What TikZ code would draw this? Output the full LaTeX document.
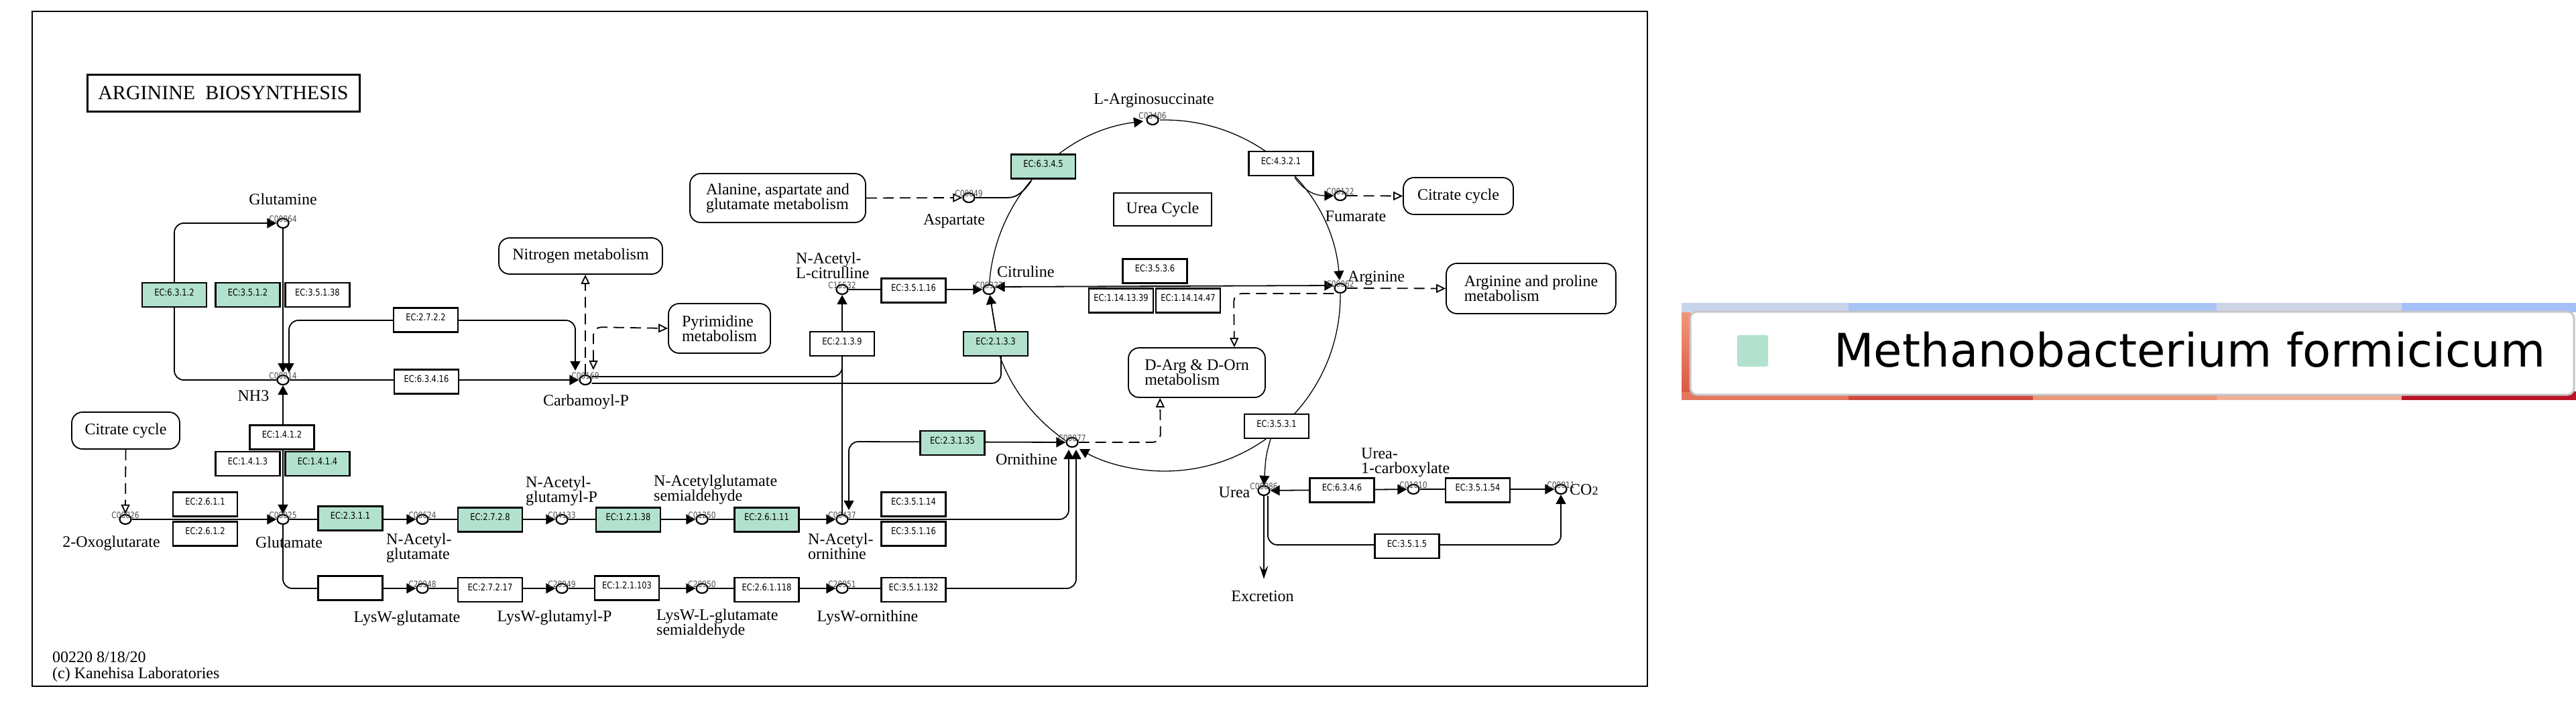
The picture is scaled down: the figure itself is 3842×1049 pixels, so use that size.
\documentclass[tikz,border=0pt]{standalone}
\usepackage{fontspec}
\setmainfont{Liberation Serif}
\newfontfamily\ecfam[FakeStretch=0.82]{DejaVu Sans}
\newfontfamily\legfam{DejaVu Sans}
\usetikzlibrary{arrows.meta,shapes.geometric,calc}
\pgfdeclarelayer{bg}
\pgfdeclarelayer{paper}
\pgfsetlayers{paper,bg,main}
\definecolor{kgreen}{RGB}{178,226,205}
\definecolor{lbA}{RGB}{200,212,235}
\definecolor{lbB}{RGB}{168,196,245}
\definecolor{lbC}{RGB}{205,212,228}
\definecolor{lbD}{RGB}{165,192,248}
\definecolor{lrA}{RGB}{228,120,95}
\definecolor{lrB}{RGB}{205,72,62}
\definecolor{lrC}{RGB}{235,150,120}
\definecolor{lrD}{RGB}{240,175,150}
\definecolor{lrE}{RGB}{185,20,40}
\definecolor{lsal}{RGB}{240,150,120}
\definecolor{lred}{RGB}{220,90,70}
\tikzset{
  kt/.tip={Triangle[length=14pt,width=15pt]},
  ko/.tip={Triangle[open,length=14pt,width=13pt]},
  ec/.style={draw, line width=2.2pt, fill=white, minimum width=96pt, minimum height=36pt,
    inner sep=0pt, font=\ecfam\fontsize{14}{14}\selectfont, text height=10pt, text depth=8pt},
  ecg/.style={ec, fill=kgreen},
  cpd/.style={ellipse, draw, line width=2.2pt, fill=white, minimum width=17pt,
    minimum height=14pt, inner sep=0pt},
  cid/.style={font=\ecfam\fontsize{13}{13}\selectfont, text=black!70, inner sep=0pt},
  lbl/.style={font=\fontsize{24}{24}\selectfont, inner sep=0pt, anchor=base},
  lblw/.style={lbl, anchor=base west},
  mapbox/.style={draw, line width=1.8pt, rounded corners=16pt, fill=white, align=left,
    font=\fontsize{24}{22}\selectfont, inner sep=0pt},
  ln/.style={line width=1.8pt},
  arr/.style={ln, -kt},
  darr/.style={ln, kt-kt},
  arcln/.style={line width=1.3pt},
  arcarr/.style={line width=1.3pt, -kt},
  dsh/.style={line width=1.8pt, dash pattern=on 16pt off 9pt, -ko},
  ddsh/.style={line width=1.8pt, dash pattern=on 16pt off 9pt, ko-ko},
}
\begin{document}
\begin{tikzpicture}[x=1pt,y=-1pt]
\begin{pgfonlayer}{paper}
\fill[white] (0,0) rectangle (3842,1049);
\end{pgfonlayer}
\useasboundingbox (0,0) rectangle (3842,1049);
\draw[line width=2.4pt] (48,17) rectangle (2457,1024);

% title
\node[draw,line width=3pt,minimum width=406pt,minimum height=55pt,inner sep=0pt,
  font=\fontsize{30}{30}\selectfont] (title) at (333,138.5) {ARGININE\ \ BIOSYNTHESIS};

% compounds
\node[cpd] (gln) at (422,333) {};
\node[cpd] (nh3) at (422,567) {};
\node[cpd] (carbp) at (873,567) {};
\node[cpd] (oxo) at (187,775) {};
\node[cpd] (glu) at (422,775) {};
\node[cpd] (nag) at (630,775) {};
\node[cpd] (nagp) at (838,775) {};
\node[cpd] (nagsa) at (1047,775) {};
\node[cpd] (nao) at (1256,775) {};
\node[cpd] (lglu) at (630,878) {};
\node[cpd] (lglup) at (838,878) {};
\node[cpd] (lglusa) at (1047,878) {};
\node[cpd] (lorn) at (1256,878) {};
\node[cpd] (nacit) at (1256,432) {};
\node[cpd] (cit) at (1475,432) {};
\node[cpd] (asp) at (1445,295) {};
\node[cpd] (args) at (1719,179) {};
\node[cpd] (fum) at (1999,292) {};
\node[cpd] (arg) at (1999,430) {};
\node[cpd] (orn) at (1599,660) {};
\node[cpd] (urea) at (1885,732) {};
\node[cpd] (ureac) at (2108,730) {};
\node[cpd] (co2) at (2328,730) {};

\coordinate (uc) at (1737,441);
\coordinate (nh3t1) at (422,556);
\coordinate (nh3t2) at (431,556);
\coordinate (cpt1) at (858,553);
\coordinate (cpt2) at (885,552);
\coordinate (orn1) at (1594,671);
\coordinate (orn2) at (1605,671);
\coordinate (naot) at (1266,761);
\coordinate (exctip) at (1885,864);

% compound labels
\node[lbl] (l-gln) at (422,305) {Glutamine};
\node[lbl] (l-nh3) at (378,598) {NH3};
\node[lbl] (l-carbp) at (874,605) {Carbamoyl-P};
\node[lbl] (l-oxo) at (166,816) {2-Oxoglutarate};
\node[lbl] (l-glu) at (431,817) {Glutamate};
\node[lblw] (l-nag1) at (576,812) {N-Acetyl-};
\node[lblw] (l-nag2) at (576,834) {glutamate};
\node[lbl] (l-lglu) at (607,928) {LysW-glutamate};
\node[lblw] (l-nagp1) at (784,727) {N-Acetyl-};
\node[lblw] (l-nagp2) at (784,749) {glutamyl-P};
\node[lblw] (l-nagsa1) at (975,725) {N-Acetylglutamate};
\node[lblw] (l-nagsa2) at (975,747) {semialdehyde};
\node[lblw] (l-nao1) at (1205,812) {N-Acetyl-};
\node[lblw] (l-nao2) at (1205,834) {ornithine};
\node[lbl] (l-lglup) at (827,927) {LysW-glutamyl-P};
\node[lblw] (l-lglusa1) at (979,925) {LysW-L-glutamate};
\node[lblw] (l-lglusa2) at (979,947) {semialdehyde};
\node[lbl] (l-lorn) at (1294,927) {LysW-ornithine};
\node[lblw] (l-nacit1) at (1187,393) {N-Acetyl-};
\node[lblw] (l-nacit2) at (1187,415) {L-citrulline};
\node[lblw] (l-cit) at (1487,413) {Citruline};
\node[lbl] (l-asp) at (1423,335) {Aspartate};
\node[lbl] (l-args) at (1721,155) {L-Arginosuccinate};
\node[lbl] (l-fum) at (2022,330) {Fumarate};
\node[lblw] (l-arg) at (2010,420) {Arginine};
\node[lbl] (l-orn) at (1531,693) {Ornithine};
\node[lbl] (l-urea) at (1841,742) {Urea};
\node[lblw] (l-ureac1) at (2030,684) {Urea-};
\node[lblw] (l-ureac2) at (2030,706) {1-carboxylate};
\node[lblw] (l-co2) at (2341,738) {CO{\fontsize{18}{18}\selectfont 2}};
\node[lbl] (l-exc) at (1883,897) {Excretion};
\node[lblw] (foot1) at (78,988) {00220 8/18/20};
\node[lblw] (foot2) at (78,1012) {(c) Kanehisa Laboratories};

% enzyme boxes
\node[ecg] (e6312) at (260,440) {EC:6.3.1.2};
\node[ecg] (e3512) at (369.5,440) {EC:3.5.1.2};
\node[ec] (e35138) at (473.5,440) {EC:3.5.1.38};
\node[ec] (e2722) at (635,477.5) {EC:2.7.2.2};
\node[ec] (e63416) at (636,569.5) {EC:6.3.4.16};
\node[ec] (e1412) at (420.5,652.5) {EC:1.4.1.2};
\node[ec] (e1413) at (369.5,692) {EC:1.4.1.3};
\node[ecg] (e1414) at (473.5,692) {EC:1.4.1.4};
\node[ec] (e2611) at (306,752.5) {EC:2.6.1.1};
\node[ec] (e2612) at (306,796.5) {EC:2.6.1.2};
\node[ecg] (e2311) at (522.5,773.5) {EC:2.3.1.1};
\node[ecg] (e2728) at (731,775.5) {EC:2.7.2.8};
\node[ecg] (e12138) at (937,775.5) {EC:1.2.1.38};
\node[ecg] (e26111) at (1143.5,775.5) {EC:2.6.1.11};
\node[ec] (e35114) at (1362.5,752.5) {EC:3.5.1.14};
\node[ec] (e35116b) at (1362.5,796.5) {EC:3.5.1.16};
\node[ec] (eblank) at (522.5,877.5) {};
\node[ec] (e27217) at (731,880) {EC:2.7.2.17};
\node[ec] (e121103) at (935,877.5) {EC:1.2.1.103};
\node[ec] (e261118) at (1143.5,880) {EC:2.6.1.118};
\node[ec] (e351132) at (1362.5,880) {EC:3.5.1.132};
\node[ec] (e2139) at (1256,513) {EC:2.1.3.9};
\node[ec] (e35116a) at (1362.5,433.5) {EC:3.5.1.16};
\node[ecg] (e2133) at (1485,513) {EC:2.1.3.3};
\node[ecg] (e23135) at (1420.5,661) {EC:2.3.1.35};
\node[ecg] (e6345) at (1556,248.5) {EC:6.3.4.5};
\node[ec] (e4321) at (1910.5,244) {EC:4.3.2.1};
\node[ec] (e3536) at (1722.5,404.5) {EC:3.5.3.6};
\node[ec] (e11413) at (1672,448.5) {EC:1.14.13.39};
\node[ec] (e11414) at (1772,448.5) {EC:1.14.14.47};
\node[ec] (e3531) at (1904,636) {EC:3.5.3.1};
\node[ec] (e6346) at (2001.5,731.5) {EC:6.3.4.6};
\node[ec] (e35154) at (2204,731.5) {EC:3.5.1.54};
\node[ec] (e3515) at (2098.5,815) {EC:3.5.1.5};

% pathway maps
\node[mapbox, minimum width=161pt, minimum height=55pt] (citL) at (187.5,642.5) {Citrate cycle};
\node[mapbox, minimum width=244pt, minimum height=54pt] (nitro) at (866,382) {Nitrogen metabolism};
\node[mapbox, minimum width=152pt, minimum height=74pt] (pyr) at (1073,490) {Pyrimidine\\metabolism};
\node[mapbox, minimum width=262pt, minimum height=73pt] (ala) at (1160,295.5) {Alanine, aspartate and\\glutamate metabolism};
\node[mapbox, minimum width=164pt, minimum height=55pt] (citR) at (2175,292.5) {Citrate cycle};
\node[mapbox, minimum width=253pt, minimum height=75pt] (argpro) at (2283.5,430.5) {Arginine and proline\\metabolism};
\node[mapbox, minimum width=204pt, minimum height=74pt] (darg) at (1785,556) {D-Arg \& D-Orn\\metabolism};
\node[draw, line width=1.8pt, minimum width=146pt, minimum height=49pt, inner sep=0pt,
  font=\fontsize{24}{24}\selectfont] (ucyc) at (1734,312.5) {Urea Cycle};

% connectors
\begin{pgfonlayer}{bg}
\draw[arr, rounded corners=14pt] (nh3.west) -- (260,567) -- (260,333) -- (gln.west);
\draw[arr] (gln.south) -- (nh3t1);
\draw[darr, rounded corners=14pt] (nh3t2) -- (431,478) -- (858,478) -- (cpt1);
\draw[arr] (nh3.east) -- (carbp.west);
\draw[darr] (nh3.south) -- (glu.north);
\draw[dsh] (citL.south) -- (oxo.north);
\draw[arr] (oxo) -- (glu);
\draw[arr] (glu) -- (nag);
\draw[arr] (nag) -- (nagp);
\draw[arr] (nagp) -- (nagsa);
\draw[arr] (nagsa) -- (nao);
\draw[arr, rounded corners=14pt] (nao.east) -- (1594,775) -- (orn1);
\draw[arr, rounded corners=14pt] (glu.south) -- (422,878) -- (lglu.west);
\draw[arr] (lglu) -- (lglup);
\draw[arr] (lglup) -- (lglusa);
\draw[arr] (lglusa) -- (lorn);
\draw[arr, rounded corners=14pt] (lorn.east) -- (1605,878) -- (orn2);
\draw[ln, rounded corners=14pt] ([yshift=5pt]carbp.east) -- (1256,562) -- (e2139.south);
\draw[arr] (nao.north) -- (nacit.south);
\draw[arr] (nacit) -- (cit);
\draw[ln, rounded corners=14pt] ([yshift=-5pt]carbp.east) -- (1493,572) -- (1493,531);
\draw[arr] (e2133.north) -- (cit);
% urea cycle arcs
\draw[arcln] ($(uc)+(200:262pt)$) arc[start angle=200,end angle=235.5,radius=262pt];
\draw[arcarr] ($(uc)+(176.5:262pt)$) arc[start angle=176.5,end angle=97,radius=262pt];
\draw[arcarr] ($(uc)+(91.5:262pt)$) arc[start angle=91.5,end angle=5,radius=262pt];
\draw[arcarr] ($(uc)+(0.5:262pt)$) arc[start angle=0.5,end angle=-119,radius=262pt];
\draw[ln] (asp.east) -- (1503,295) .. controls (1518,295) and (1528,284) .. (1538,270);
\draw[arcarr] (1931,265) .. controls (1945,284) and (1960,292) .. (fum.west);
\draw[arcarr] ([xshift=-9pt]e3531.south) .. controls (1888,680) .. (urea.north);
\draw[darr] ([yshift=4pt]cit.east) -- ([yshift=4pt]arg.west);
\draw[darr, rounded corners=14pt] (naot) -- (1266,659) -- (orn.west);
\draw[dsh, rounded corners=12pt] (orn.east) -- (1731,660) -- ([xshift=48pt]darg.south west);
\draw[dsh, rounded corners=12pt] ([yshift=-8pt]arg.west) -- (1840,438) -- ([xshift=-47pt]darg.north east);
\draw[dsh] (arg.east) -- (argpro.west);
\draw[dsh] (fum.east) -- (citR.west);
\draw[dsh] (ala.east) -- (asp.west);
\draw[dsh] (carbp.north) -- (carbp.north |- nitro.south);
\draw[ddsh, rounded corners=12pt] (cpt2) -- (885,488) -- (pyr.west);
\draw[darr] (urea) -- (ureac);
\draw[arr] (ureac) -- (co2);
\draw[arr, rounded corners=14pt] ([xshift=6pt]urea.south) -- (1891,813) -- (2328,813) -- (co2.south);
\draw[ln, -{Stealth[length=20pt,width=13pt,inset=8pt]}] (urea.south) -- (exctip);
\end{pgfonlayer}

% compound ids
\node[cid] (i-gln) at ([yshift=6pt]gln.center) {C00064};
\node[cid] (i-nh3) at ([yshift=6pt]nh3.center) {C00014};
\node[cid] (i-carbp) at ([yshift=6pt]carbp.center) {C00169};
\node[cid] (i-oxo) at ([yshift=6pt]oxo.center) {C00026};
\node[cid] (i-glu) at ([yshift=6pt]glu.center) {C00025};
\node[cid] (i-nag) at ([yshift=6pt]nag.center) {C00624};
\node[cid] (i-nagp) at ([yshift=6pt]nagp.center) {C04133};
\node[cid] (i-nagsa) at ([yshift=6pt]nagsa.center) {C01250};
\node[cid] (i-nao) at ([yshift=6pt]nao.center) {C00437};
\node[cid] (i-lglu) at ([yshift=6pt]lglu.center) {C20948};
\node[cid] (i-lglup) at ([yshift=6pt]lglup.center) {C20949};
\node[cid] (i-lglusa) at ([yshift=6pt]lglusa.center) {C20950};
\node[cid] (i-lorn) at ([yshift=6pt]lorn.center) {C20951};
\node[cid] (i-nacit) at ([yshift=6pt]nacit.center) {C15532};
\node[cid] (i-cit) at ([yshift=6pt]cit.center) {C00327};
\node[cid] (i-asp) at ([yshift=6pt]asp.center) {C00049};
\node[cid] (i-args) at ([yshift=6pt]args.center) {C03406};
\node[cid] (i-fum) at ([yshift=6pt]fum.center) {C00122};
\node[cid] (i-arg) at ([yshift=6pt]arg.center) {C00062};
\node[cid] (i-orn) at ([yshift=6pt]orn.center) {C00077};
\node[cid] (i-urea) at ([yshift=6pt]urea.center) {C00086};
\node[cid] (i-ureac) at ([yshift=6pt]ureac.center) {C01010};
\node[cid] (i-co2) at ([yshift=6pt]co2.center) {C00011};

% legend
\fill[lbA] (2508,452) rectangle (2757,466);
\fill[lbB] (2757,452) rectangle (3306,466);
\fill[lbC] (3306,452) rectangle (3582,466);
\fill[lbD] (3582,452) rectangle (3842,466);
\fill[lrA] (2508,584) rectangle (2757,597);
\fill[lrB] (2757,584) rectangle (3032,597);
\fill[lrC] (3032,584) rectangle (3306,597);
\fill[lrD] (3306,584) rectangle (3582,597);
\fill[lrE] (3582,584) rectangle (3842,597);
\shade[top color=lsal, bottom color=lred] (2508,466) rectangle (2522,584);
\draw[fill=white, draw=gray!45, line width=3pt, rounded corners=10pt] (2521,465) rectangle (3839,589);
\node[fill=kgreen, minimum width=46pt, minimum height=47pt, inner sep=0pt, rounded corners=3pt] (legsq) at (2614,523.5) {};
\node[anchor=base west, inner sep=0pt, font=\legfam\fontsize{69}{69}\selectfont] (legtxt) at (2735,547) {Methanobacterium formicicum};
\end{tikzpicture}
\end{document}
